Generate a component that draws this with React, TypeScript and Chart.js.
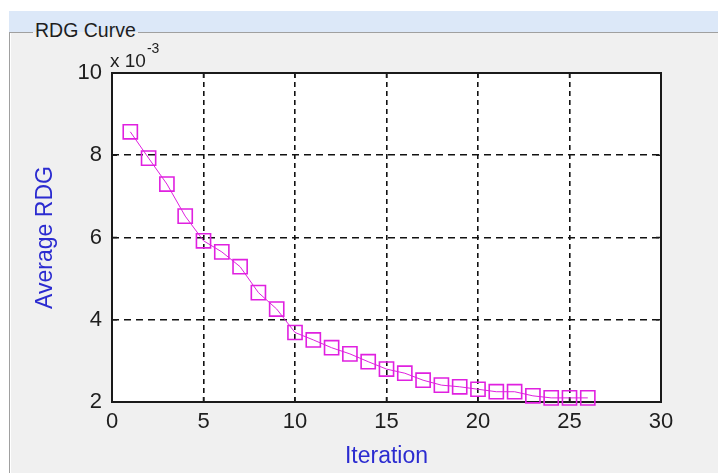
import React, { useEffect, useRef } from 'react';
import { Chart, registerables } from 'chart.js';

Chart.register(...registerables);

// ---- data ----
const iterations = [1, 2, 3, 4, 5, 6, 7, 8, 9, 10, 11, 12, 13, 14, 15, 16, 17, 18, 19, 20, 21, 22, 23, 24, 25, 26];
// Average RDG in units of 1e-3
const averageRDG = [8.57, 7.93, 7.30, 6.52, 5.92, 5.65, 5.29, 4.66, 4.26, 3.69, 3.51, 3.32, 3.17, 2.98, 2.80, 2.70, 2.53, 2.41, 2.37, 2.31, 2.25, 2.25, 2.15, 2.10, 2.10, 2.10];
const xTicks = [0, 5, 10, 15, 20, 25, 30];
const yTicks = [2, 4, 6, 8, 10];
const yExponentBase = 'x 10';
const yExponent = '-3';
const panelTitle = 'RDG Curve';
const xTitle = 'Iteration';
const yTitle = 'Average RDG';

const FONT = "'Liberation Sans', Arial, Helvetica, sans-serif";
const MAGENTA = '#e020e0';
const LABEL_BLUE = '#2b2bd0';
const TICK_COLOR = '#1e1e1e';

const framePlugin = {
  id: 'matlabFrame',
  beforeDraw(chart: any) {
    const { ctx, chartArea: a } = chart;
    ctx.save();
    ctx.fillStyle = '#ffffff';
    ctx.fillRect(a.left, a.top, a.right - a.left, a.bottom - a.top);
    ctx.restore();
  },
  beforeDatasetsDraw(chart: any) {
    const { ctx, chartArea: a, scales } = chart;
    ctx.save();
    // inward tick marks
    ctx.strokeStyle = '#1a1a1a';
    ctx.lineWidth = 1.5;
    const tl = 5;
    ctx.beginPath();
    xTicks.forEach((v) => {
      const px = scales.x.getPixelForValue(v);
      ctx.moveTo(px, a.bottom);
      ctx.lineTo(px, a.bottom - tl);
      ctx.moveTo(px, a.top);
      ctx.lineTo(px, a.top + tl);
    });
    yTicks.forEach((v) => {
      const py = scales.y.getPixelForValue(v);
      ctx.moveTo(a.left, py);
      ctx.lineTo(a.left + tl, py);
      ctx.moveTo(a.right, py);
      ctx.lineTo(a.right - tl, py);
    });
    ctx.stroke();
    // box
    ctx.strokeStyle = '#1a1a1a';
    ctx.lineWidth = 2;
    ctx.strokeRect(a.left, a.top, a.right - a.left, a.bottom - a.top);
    // exponent label
    ctx.fillStyle = TICK_COLOR;
    ctx.textAlign = 'left';
    ctx.textBaseline = 'alphabetic';
    ctx.font = `19px ${FONT}`;
    ctx.fillText(yExponentBase, a.left - 2, a.top - 6);
    const w = ctx.measureText(yExponentBase).width;
    ctx.font = `14px ${FONT}`;
    ctx.fillText(yExponent, a.left - 2 + w + 1, a.top - 20);
    ctx.restore();
  },
};

const edgeColor = (min: number, max: number, color: string) => (c: any) => {
  const v = c.tick ? c.tick.value : null;
  if (v === min || v === max) return 'rgba(0,0,0,0)';
  return color;
};

export default function App() {
  const ref = useRef<HTMLCanvasElement | null>(null);

  useEffect(() => {
    const canvas = ref.current;
    if (!canvas) return;
    const chart = new Chart(canvas, {
      type: 'line',
      data: {
        datasets: [
          {
            data: iterations.map((x, i) => ({ x, y: averageRDG[i] })),
            borderColor: MAGENTA,
            borderWidth: 1,
            backgroundColor: 'rgba(0,0,0,0)',
            pointStyle: 'rect',
            pointRadius: 10,
            pointBorderWidth: 1.6,
            pointBorderColor: MAGENTA,
            pointBackgroundColor: 'rgba(0,0,0,0)',
            tension: 0,
            clip: false as any,
          },
        ],
      },
      options: {
        responsive: false,
        animation: false,
        events: [],
        layout: { padding: { left: 0, right: 57, top: 73, bottom: 0 } },
        plugins: { legend: { display: false }, tooltip: { enabled: false }, title: { display: false } },
        scales: {
          x: {
            type: 'linear',
            min: 0,
            max: 30,
            afterBuildTicks: (s: any) => {
              s.ticks = xTicks.map((v) => ({ value: v }));
            },
            ticks: {
              padding: 7,
              color: TICK_COLOR,
              font: { family: FONT, size: 22 },
              maxRotation: 0,
              autoSkip: false,
            },
            grid: {
              color: edgeColor(0, 30, '#111111'),
              lineWidth: 1.6,
              drawTicks: false,
            },
            border: { display: false, dash: [5, 4] },
            title: {
              display: true,
              text: xTitle,
              color: LABEL_BLUE,
              font: { family: FONT, size: 23 },
              padding: { top: 0, bottom: 3 },
            },
            afterFit: (s: any) => {
              s.height = 71;
              s.paddingLeft = 0;
              s.paddingRight = 0;
            },
          },
          y: {
            type: 'linear',
            min: 2,
            max: 10,
            afterBuildTicks: (s: any) => {
              s.ticks = yTicks.map((v) => ({ value: v }));
            },
            ticks: {
              padding: 10,
              color: TICK_COLOR,
              font: { family: FONT, size: 22 },
            },
            grid: {
              color: edgeColor(2, 10, '#111111'),
              lineWidth: 1.6,
              drawTicks: false,
            },
            border: { display: false, dash: [7, 5] },
            title: {
              display: true,
              text: yTitle,
              color: LABEL_BLUE,
              font: { family: FONT, size: 23 },
              padding: { top: 32, bottom: 0 },
            },
            afterFit: (s: any) => {
              s.width = 112;
              s.paddingTop = 0;
              s.paddingBottom = 0;
            },
          },
        },
      } as any,
      plugins: [framePlugin],
    });
    return () => chart.destroy();
  }, []);

  return (
    <div style={{ position: 'fixed', left: 0, top: 0, width: 718, height: 473, background: '#ffffff', overflow: 'hidden' }}>
      <div style={{ position: 'absolute', left: 9, top: 11, width: 709, height: 21, background: '#dce8f8' }} />
      <div style={{ position: 'absolute', left: 9, top: 32, width: 709, height: 441, background: '#f0f0f0' }} />
      <div style={{ position: 'absolute', left: 9, top: 32, width: 24, height: 1, background: '#a0a0a0' }} />
      <div style={{ position: 'absolute', left: 138, top: 32, width: 580, height: 1, background: '#a0a0a0' }} />
      <div style={{ position: 'absolute', left: 9, top: 32, width: 1, height: 441, background: '#a0a0a0' }} />
      <div style={{ position: 'absolute', left: 10, top: 33, width: 1, height: 440, background: '#ffffff' }} />
      <div
        style={{
          position: 'absolute',
          left: 35,
          top: 19,
          fontFamily: FONT,
          fontSize: 19.5,
          lineHeight: '23px',
          color: '#1e1e1e',
          whiteSpace: 'nowrap',
        }}
      >
        {panelTitle}
      </div>
      <canvas ref={ref} width={718} height={473} style={{ position: 'absolute', left: 0, top: 0, width: 718, height: 473 }} />
    </div>
  );
}
